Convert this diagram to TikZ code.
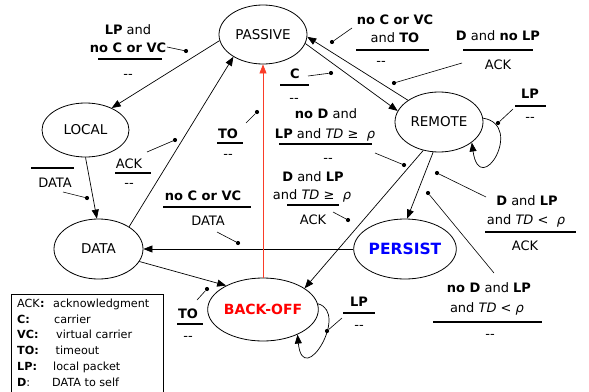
\documentclass[tikz,border=0pt]{standalone}
\usepackage{fontspec}
\setmainfont{DejaVu Sans}
\usetikzlibrary{shapes.geometric,arrows.meta}
\newcommand{\dd}{-{}-}
\definecolor{redline}{RGB}{250,60,40}
\begin{document}
\begin{tikzpicture}[x=1pt,y=-1pt,
  state/.style={ellipse, draw, line width=0.8pt, inner sep=0pt, font=\fontsize{13.5}{15}\selectfont},
  conn/.style={-{Triangle[length=9pt,width=7pt]}, line width=0.7pt},
  lbl/.style={inner sep=0pt, anchor=base, font=\fontsize{13}{15}\selectfont},
  leg/.style={inner sep=0pt, anchor=base west, font=\fontsize{11.2}{13}\selectfont},
  fracrule/.style={line width=1.7pt},
  pinline/.style={line width=0.6pt},
  pindot/.style={circle, fill, inner sep=0pt, minimum size=4.2pt}
]
\useasboundingbox (0,0) rectangle (589,391);

% states
\node[state, minimum width=88pt, minimum height=59pt] (passive) at (263,34.5) {PASSIVE};
\node[state, minimum width=87pt, minimum height=54pt] (local) at (85.5,130) {LOCAL};
\node[state, minimum width=89pt, minimum height=60pt] (data) at (98.5,249) {DATA};
\node[state, minimum width=91pt, minimum height=63pt, text=red, font=\fontsize{14}{16}\selectfont\bfseries] (backoff) at (263,309.5) {BACK-OFF};
\node[state, minimum width=88pt, minimum height=60pt] (remote) at (439,122) {REMOTE};
\node[state, minimum width=86pt, minimum height=60pt, text=blue, font=\fontsize{15.5}{17}\selectfont\bfseries] (persist) at (405,249) {PERSIST};

% transitions
\draw[conn] (passive.188) -- (local.40);
\draw[conn] (local.270) -- (data.93);
\draw[conn] (data.36) -- (passive.217);
\draw[conn] (data.-17) -- (backoff.147);
\draw[conn] (persist.180) -- (data.0);
\draw[conn, color=redline] (backoff.north) -- (passive.south);
\draw[conn] (passive.-12) -- (remote.165);
\draw[conn] (remote.145) -- (passive.-3);
\draw[conn] (remote.241) -- (backoff.27);
\draw[conn] (remote.259) -- (persist.86);
\draw[conn] (remote.5) .. controls (525,125) and (480,200) .. (remote.-32);
\draw[conn] (backoff.6) .. controls (350,312) and (303,390) .. (backoff.-36);

% label a
\node[lbl] (a1) at (128,34) {\textbf{LP} and};
\node[lbl] (a2) at (128,52) {\textbf{no C or VC}};
\draw[fracrule] (98,59) -- (162,59);
\node[lbl] (a3) at (128,78) {\dd};
\coordinate (ap) at (167,47);
\node[pindot] (ad) at (186,51) {};
\draw[pinline] (ap) -- (ad);

% label b
\node[lbl] (b1) at (295,78) {\textbf{C}};
\draw[fracrule] (280,85) -- (309,85);
\node[lbl] (b3) at (294,102) {\dd};
\coordinate (bp) at (308,76);
\node[pindot] (bd) at (331,73) {};
\draw[pinline] (bp) -- (bd);

% label c
\node[lbl] (c1) at (395,24) {\textbf{no C or VC}};
\node[lbl] (c2) at (395,42) {and \textbf{TO}};
\draw[fracrule] (356,50) -- (429,50);
\node[lbl] (c3) at (381,65) {\dd};
\coordinate (cp) at (352,28);
\node[pindot] (cd) at (332,42) {};
\draw[pinline] (cp) -- (cd);

% label d
\node[lbl] (d1) at (498,40) {\textbf{D} and \textbf{no LP}};
\draw[fracrule] (463,50) -- (533,50);
\node[lbl] (d3) at (498,69) {ACK};
\coordinate (dp) at (462,63);
\node[pindot] (dd) at (394,83) {};
\draw[pinline] (dp) -- (dd);

% label e
\node[lbl] (e1) at (530,98) {\textbf{LP}};
\draw[fracrule] (515,106) -- (546,106);
\node[lbl] (e3) at (530,121) {\dd};
\coordinate (ep) at (513,109);
\node[pindot] (ed) at (498,123) {};
\draw[pinline] (ep) -- (ed);

% label f
\node[lbl] (f1) at (326,118) {\textbf{no D} and};
\node[lbl] (f2) at (325,138) {\textbf{LP} and \textit{TD} ≥ ~\textit{ρ}};
\draw[fracrule] (279,144) -- (372,144);
\node[lbl] (f3) at (328,162) {\dd};
\coordinate (fp) at (375,153);
\node[pindot] (fd) at (404,165) {};
\draw[pinline] (fp) -- (fd);

% label g
\node[lbl] (g1) at (313,181) {\textbf{D} and \textbf{LP}};
\node[lbl] (g2) at (312,199) {and \textit{TD} ≥ ~\textit{ρ}};
\draw[fracrule] (287,205) -- (339,205);
\node[lbl] (g3) at (313,224) {ACK};
\coordinate (gp) at (333,212);
\node[pindot] (gd) at (348,220) {};
\draw[pinline] (gp) -- (gd);

% label h
\node[lbl] (h1) at (228,138) {\textbf{TO}};
\draw[fracrule] (217,143) -- (243,143);
\node[lbl] (h3) at (228,158) {\dd};
\coordinate (hp) at (246,123);
\node[pindot] (hd) at (257,112) {};
\draw[pinline] (hp) -- (hd);

% label i
\node[lbl] (i1) at (129,168) {ACK};
\draw[fracrule] (115,173) -- (151,173);
\node[lbl] (i3) at (129,187) {\dd};
\coordinate (ip) at (147,152);
\node[pindot] (id) at (175,140) {};
\draw[pinline] (ip) -- (id);

% label j
\draw[fracrule] (31,168) -- (74,168);
\node[lbl] (j3) at (55,187) {DATA};
\coordinate (jp) at (63,192);
\node[pindot] (jd) at (87,198) {};
\draw[pinline] (jp) -- (jd);

% label k
\node[lbl] (k1) at (203,200) {\textbf{no C or VC}};
\draw[fracrule] (163,207) -- (251,207);
\node[lbl] (k3) at (208,225) {DATA};
\coordinate (kp) at (217,232);
\node[pindot] (kd) at (238,243) {};
\draw[pinline] (kp) -- (kd);

% label l
\node[lbl] (l1) at (188,318) {\textbf{TO}};
\draw[fracrule] (177,324) -- (203,324);
\node[lbl] (l3) at (188,340) {\dd};
\coordinate (lp) at (197,300);
\node[pindot] (ld) at (207,289) {};
\draw[pinline] (lp) -- (ld);

% label m
\node[lbl] (m1) at (359,306) {\textbf{LP}};
\draw[fracrule] (343,313) -- (375,313);
\node[lbl] (m3) at (359,329) {\dd};
\coordinate (mp) at (342,318);
\node[pindot] (md) at (327,331) {};
\draw[pinline] (mp) -- (md);

% label n
\node[lbl] (n1) at (527,205) {\textbf{D} and \textbf{LP}};
\node[lbl] (n2) at (526,224) {and \textit{TD} < ~\textit{ρ}};
\draw[fracrule] (485,232) -- (576,232);
\node[lbl] (n3) at (525,250) {ACK};
\coordinate (np) at (486,197);
\node[pindot] (nd) at (437,173) {};
\draw[pinline] (np) -- (nd);

% label o
\node[lbl] (o1) at (489,292) {\textbf{no D} and \textbf{LP}};
\node[lbl] (o2) at (487,312) {and \textit{TD} < \textit{ρ}};
\draw[fracrule] (433,322) -- (542,322);
\node[lbl] (o3) at (490,338) {\dd};
\coordinate (op) at (494,273);
\node[pindot] (od) at (428,193) {};
\draw[pinline] (op) -- (od);

% legend
\draw[line width=0.7pt] (11,394) -- (11,294) -- (163,294) -- (163,394);
\node[leg] (k1l) at (17,307.5) {ACK\textbf{:}};
\node[leg] (v1l) at (53,307.5) {acknowledgment};
\node[leg] (k2l) at (17,323.2) {\textbf{C:}};
\node[leg] (v2l) at (54,323.2) {carrier};
\node[leg] (k3l) at (17,338.9) {\textbf{VC:}};
\node[leg] (v3l) at (56,338.9) {virtual carrier};
\node[leg] (k4l) at (17,354.6) {\textbf{TO:}};
\node[leg] (v4l) at (55.5,354.6) {timeout};
\node[leg] (k5l) at (17,370.3) {\textbf{LP:}};
\node[leg] (v5l) at (53,370.3) {local packet};
\node[leg] (k6l) at (17,386) {\textbf{D}:};
\node[leg] (v6l) at (52,386) {DATA to self};
\end{tikzpicture}
\end{document}
